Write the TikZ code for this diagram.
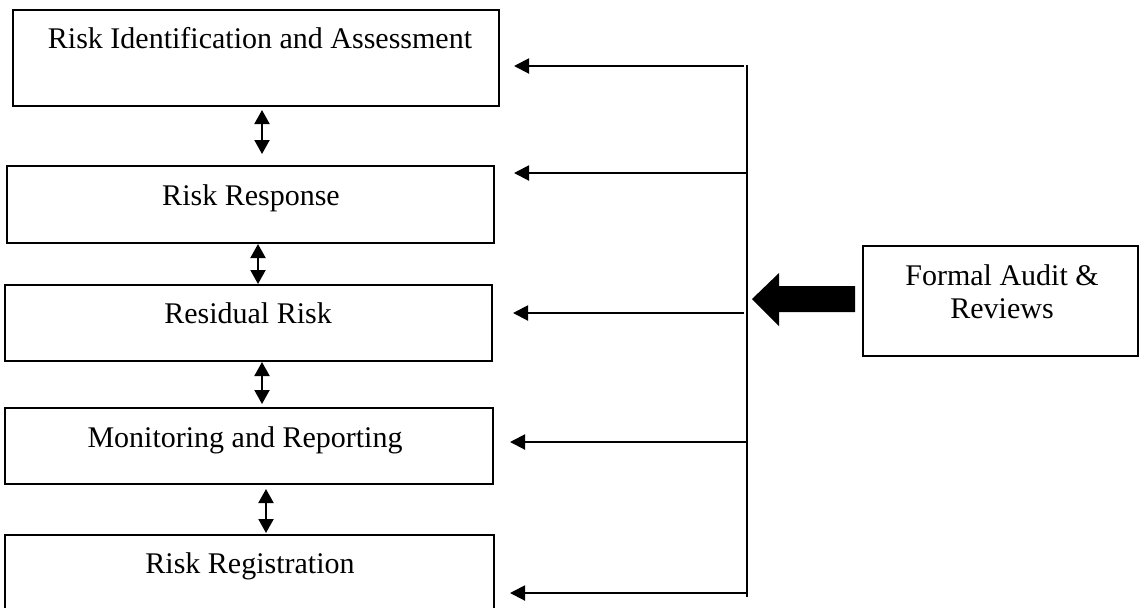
\documentclass[tikz,border=0pt]{standalone}
\usepackage{fontspec}
\setmainfont{Liberation Serif}
\usetikzlibrary{arrows.meta}
\begin{document}
\begin{tikzpicture}[x=0.5pt,y=-0.5pt,
  box/.style={draw=black,line width=1pt,rectangle,inner sep=0pt,fill=none},
  lbl/.style={inner sep=0pt,anchor=base,font=\fontsize{15}{16.5}\selectfont},
  link/.style={line width=1pt,-{Triangle[length=7.5pt,width=7.5pt]}},
  twoway/.style={line width=1pt,{Triangle[length=7pt,width=7.5pt]}-{Triangle[length=7pt,width=7.5pt]}}]
  \useasboundingbox (0,0) rectangle (1139,607);
  \clip (0,0) rectangle (1139,607);
  \fill[white] (0,0) rectangle (1139,607);

  % process stages
  \node[box,minimum width=243pt,minimum height=48pt]   (r1) at (256,58)    {};
  \node[box,minimum width=243.5pt,minimum height=38.5pt] (r2) at (250.5,204.5) {};
  \node[box,minimum width=243.5pt,minimum height=38pt] (r3) at (248.5,323) {};
  \node[box,minimum width=244pt,minimum height=38pt]   (r4) at (249,446)   {};
  \node[box,minimum width=244.5pt,minimum height=52.5pt] (r5) at (249.5,587.5) {};

  \node[lbl] (l1) at (260,48)  {Risk Identification and Assessment};
  \node[lbl] (l2) at (251,205) {Risk Response};
  \node[lbl] (l3) at (248,323) {Residual Risk};
  \node[lbl] (l4) at (245,447) {Monitoring and Reporting};
  \node[lbl] (l5) at (250,573) {Risk Registration};

  % audit box (base anchor of a two-line label sits on its last line)
  \node[box,minimum width=137.5pt,minimum height=55pt] (audit) at (1000.5,301) {};
  \node[lbl,align=center] (la) at (1002,318) {Formal Audit \&\\Reviews};

  % two-way links between stages
  \coordinate (a1t) at (262,110); \coordinate (a1b) at (262,154);
  \draw[twoway] (a1t) -- (a1b);
  \draw[twoway] (r2.south -| 258,0) -- (r3.north -| 258,0);
  \coordinate (a3t) at (262,362); \coordinate (a3b) at (262,404);
  \draw[twoway] (a3t) -- (a3b);
  \coordinate (a4t) at (266,489); \coordinate (a4b) at (266,533);
  \draw[twoway] (a4t) -- (a4b);

  % feedback bus
  \coordinate (bt) at (747,65);
  \coordinate (bb) at (747,597);
  \draw[line width=1pt] (bt) -- (bb);

  \coordinate (s1) at (744,66);  \coordinate (e1) at (514,66);
  \coordinate (s2) at (746,173); \coordinate (e2) at (514,173);
  \coordinate (s3) at (744,313); \coordinate (e3) at (513,313);
  \coordinate (s4) at (747,442); \coordinate (e4) at (510,442);
  \coordinate (s5) at (747,593); \coordinate (e5) at (510,593);
  \draw[link] (s1) -- (e1);
  \draw[link] (s2) -- (e2);
  \draw[link] (s3) -- (e3);
  \draw[link] (s4) -- (e4);
  \draw[link] (s5) -- (e5);

  % block arrow from the audit box to the bus
  \fill[black] (752,299) -- (779,273) -- (779,286) -- (855,286)
               -- (855,312) -- (779,312) -- (779,326) -- cycle;
\end{tikzpicture}
\end{document}
